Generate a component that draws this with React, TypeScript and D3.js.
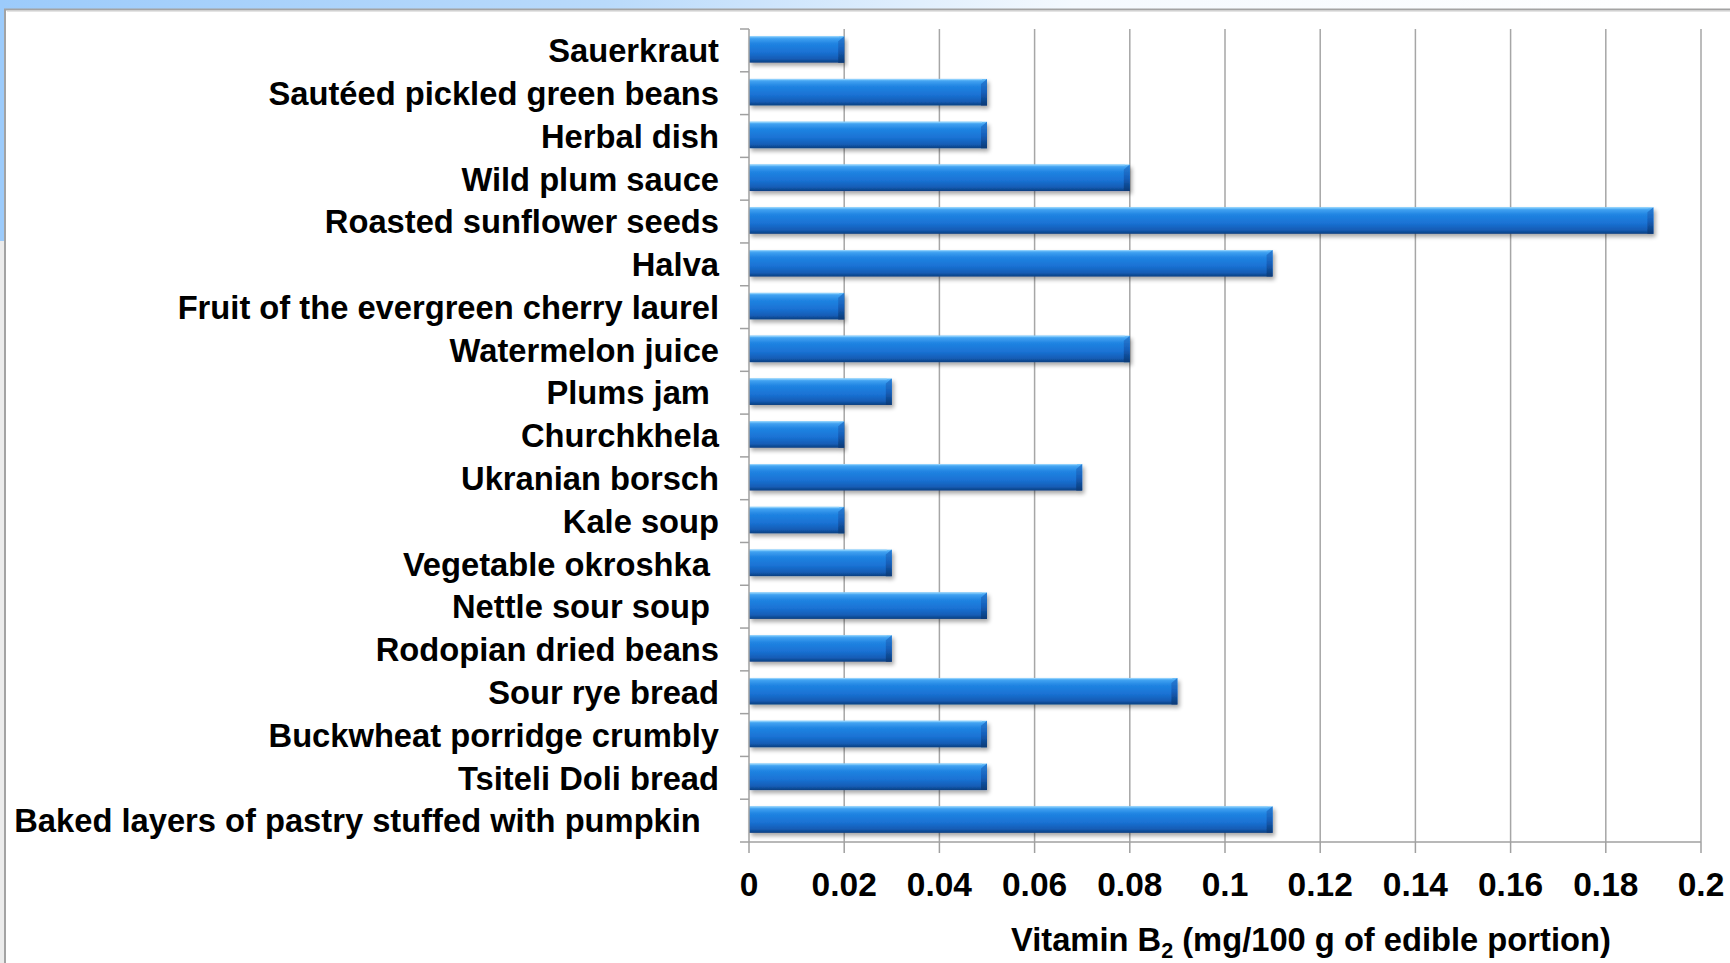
import React from "react";
import * as d3 from "d3";

// Vitamin B2 content per dish (mg/100 g of edible portion)
const categories: string[] = [
  "Sauerkraut",
  "Sautéed pickled green beans",
  "Herbal dish",
  "Wild plum sauce",
  "Roasted sunflower seeds",
  "Halva",
  "Fruit of the evergreen cherry laurel",
  "Watermelon juice",
  "Plums jam ",
  "Churchkhela",
  "Ukranian borsch",
  "Kale soup",
  "Vegetable okroshka ",
  "Nettle sour soup ",
  "Rodopian dried beans",
  "Sour rye bread",
  "Buckwheat porridge crumbly",
  "Tsiteli Doli bread",
  "Baked layers of pastry stuffed with pumpkin  ",
];

const values: number[] = [
  0.02, 0.05, 0.05, 0.08, 0.19, 0.11, 0.02, 0.08, 0.03, 0.02, 0.07, 0.02,
  0.03, 0.05, 0.03, 0.09, 0.05, 0.05, 0.11,
];

const xTicks: number[] = [0, 0.02, 0.04, 0.06, 0.08, 0.1, 0.12, 0.14, 0.16, 0.18, 0.2];
const xTickLabels: string[] = ["0", "0.02", "0.04", "0.06", "0.08", "0.1", "0.12", "0.14", "0.16", "0.18", "0.2"];

const W = 1730;
const H = 963;
const plot = { left: 749, right: 1701, top: 29, bottom: 842 };
const FONT = "'Liberation Sans', Arial, Helvetica, sans-serif";

export default function App() {
  const x = d3.scaleLinear().domain([0, 0.2]).range([plot.left, plot.right]);
  const y = d3
    .scaleBand<string>()
    .domain(categories)
    .range([plot.top, plot.bottom])
    .paddingInner(0.38)
    .paddingOuter(0.19);

  const step = y.step();
  const bw = y.bandwidth();
  const boundaries = d3.range(categories.length + 1).map((i) => plot.top + i * step);

  return (
    <div style={{ position: "absolute", left: 0, top: 0, width: W, height: H, overflow: "hidden" }}>
      <svg width={W} height={H} viewBox={`0 0 ${W} ${H}`} style={{ display: "block" }}>
        <defs>
          <linearGradient id="slideTop" x1="0" x2="1" y1="0" y2="0">
            <stop offset="0" stopColor="#9ccbfb" />
            <stop offset="0.35" stopColor="#b9dafb" />
            <stop offset="0.62" stopColor="#f4f9fe" />
            <stop offset="1" stopColor="#ffffff" />
          </linearGradient>
          <linearGradient id="barFill" x1="0" x2="0" y1="0" y2="1">
            <stop offset="0" stopColor="#74c6fb" />
            <stop offset="0.1" stopColor="#3e9ff0" />
            <stop offset="0.28" stopColor="#2084e2" />
            <stop offset="0.6" stopColor="#1a72d4" />
            <stop offset="0.85" stopColor="#145db6" />
            <stop offset="1" stopColor="#0c3f80" />
          </linearGradient>
          <linearGradient id="barEnd" x1="0" x2="0" y1="0" y2="1">
            <stop offset="0" stopColor="#2a7fd6" />
            <stop offset="0.5" stopColor="#1660bb" />
            <stop offset="1" stopColor="#0b3a76" />
          </linearGradient>
          <filter id="barShadow" x="-5%" y="-30%" width="110%" height="180%">
            <feGaussianBlur in="SourceAlpha" stdDeviation="2" />
            <feOffset dx="2" dy="3" result="blur" />
            <feComponentTransfer>
              <feFuncA type="linear" slope="0.35" />
            </feComponentTransfer>
            <feMerge>
              <feMergeNode />
              <feMergeNode in="SourceGraphic" />
            </feMerge>
          </filter>
        </defs>

        {/* slide background and chart frame */}
        <rect x={0} y={0} width={W} height={H} fill="#ffffff" />
        <rect x={0} y={0} width={W} height={10} fill="url(#slideTop)" />
        <rect x={0} y={0} width={5} height={241} fill="#9ccbfb" />
        <rect x={0} y={241} width={5} height={H - 241} fill="#ececec" />
        <line x1={4} x2={W} y1={9.5} y2={9.5} stroke="#a3a3a3" strokeWidth={2} />
        <line x1={5} x2={5} y1={9} y2={H} stroke="#a3a3a3" strokeWidth={2} />
        <line x1={7} x2={W} y1={11.5} y2={11.5} stroke="#e4e4e4" strokeWidth={1} />

        {/* vertical gridlines */}
        {xTicks.slice(1).map((t) => (
          <line key={`g${t}`} x1={x(t)} x2={x(t)} y1={plot.top} y2={plot.bottom} stroke="#a6a6a6" strokeWidth={1.5} />
        ))}

        {/* bars */}
        {categories.map((c, i) => {
          const x0 = x(0);
          const x1 = x(values[i]);
          const y0 = (y(c) as number) - 1;
          const h = bw;
          return (
            <g key={`b${i}`} filter="url(#barShadow)">
              <rect x={x0} y={y0} width={x1 - x0} height={h} fill="url(#barFill)" />
              <path
                d={`M${x1 - 6},${y0 + 5} L${x1},${y0} L${x1},${y0 + h} L${x1 - 6},${y0 + h} Z`}
                fill="url(#barEnd)"
              />
              <line x1={x0} x2={x1 - 5} y1={y0 + 0.5} y2={y0 + 0.5} stroke="#8fd0fc" strokeWidth={1} />
            </g>
          );
        })}

        {/* value axis */}
        <line x1={plot.left} x2={plot.right} y1={plot.bottom} y2={plot.bottom} stroke="#a0a0a0" strokeWidth={1.5} />
        {xTicks.map((t) => (
          <line key={`t${t}`} x1={x(t)} x2={x(t)} y1={plot.bottom} y2={plot.bottom + 11} stroke="#a0a0a0" strokeWidth={1.5} />
        ))}
        {xTicks.map((t, i) => (
          <text
            key={`l${t}`}
            x={x(t)}
            y={896}
            textAnchor="middle"
            fontFamily={FONT}
            fontWeight="bold"
            fontSize={33.5}
            fill="#000"
          >
            {xTickLabels[i]}
          </text>
        ))}

        {/* category axis */}
        <line x1={plot.left} x2={plot.left} y1={plot.top} y2={plot.bottom} stroke="#a0a0a0" strokeWidth={1.5} />
        {boundaries.map((b, i) => (
          <line key={`c${i}`} x1={plot.left - 9} x2={plot.left} y1={b} y2={b} stroke="#a0a0a0" strokeWidth={1.5} />
        ))}
        {categories.map((c) => (
          <text
            key={`n${c}`}
            x={719}
            y={(y(c) as number) + bw / 2}
            dy="0.36em"
            textAnchor="end"
            fontFamily={FONT}
            fontWeight="bold"
            fontSize={32.7}
            fill="#000"
            style={{ whiteSpace: "pre" }}
          >
            {c}
          </text>
        ))}

        {/* axis title */}
        <text x={1011} y={951} fontFamily={FONT} fontWeight="bold" fontSize={32.7} fill="#000">
          Vitamin B
          <tspan fontSize={21.5} dy={7}>2</tspan>
          <tspan dy={-7}> (mg/100 g of edible portion)</tspan>
        </text>
      </svg>
    </div>
  );
}
